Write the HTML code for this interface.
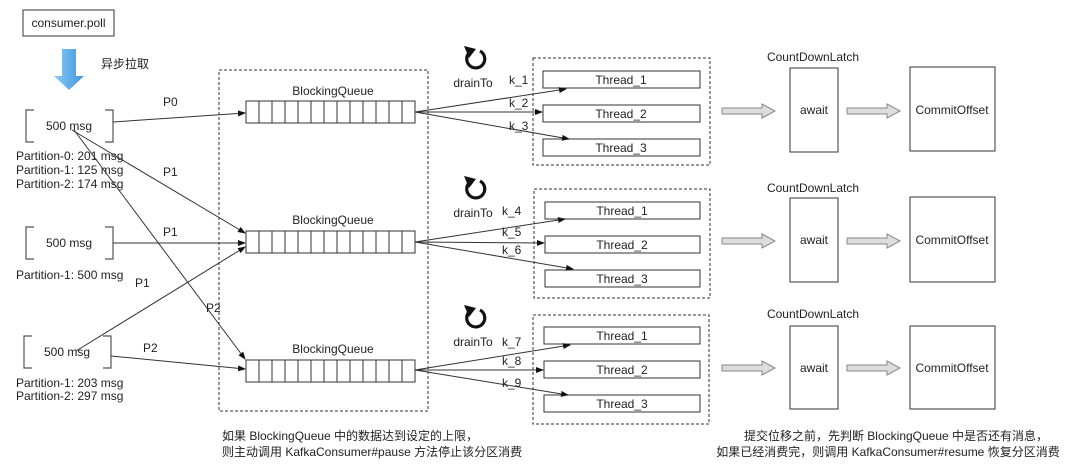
<!DOCTYPE html>
<html><head><meta charset="utf-8"><style>
html,body{margin:0;padding:0;background:#fff;}
svg{display:block;font-family:"Liberation Sans","Noto Sans CJK SC",sans-serif;}
text{font-size:12px;fill:#222;}
</style></head><body>
<svg width="1080" height="465" viewBox="0 0 1080 465" xmlns="http://www.w3.org/2000/svg">
<defs>
<marker id="ah" markerWidth="8" markerHeight="6" refX="7" refY="3" orient="auto" markerUnits="userSpaceOnUse"><path d="M0,0 L8,3 L0,6 z" fill="#111"/></marker>
<linearGradient id="bg" x1="0" y1="0" x2="1" y2="0"><stop offset="0" stop-color="#8cc8f2"/><stop offset="1" stop-color="#3d97e0"/></linearGradient>
<g id="q">
<rect x="0" y="0" width="169" height="22" fill="#fff" stroke="#333"/>
<path d="M13,0v22M26,0v22M39,0v22M52,0v22M65,0v22M78,0v22M91,0v22M104,0v22M117,0v22M130,0v22M143,0v22M156,0v22" stroke="#333" fill="none"/>
</g>
<g id="br">
<path d="M8,0H0V32H8M79,0H87V32H79" fill="none" stroke="#555" stroke-width="1.2"/>
</g>
<g id="ha"><path d="M0,-3H40V-7L53,0L40,7V3H0z" fill="#ddd" stroke="#888"/></g>
<g id="rot"><path d="M-5,-7 A9,9 0 1 0 5,-8" fill="none" stroke="#111" stroke-width="3.2"/><path d="M-11,-13 L1,-10 L-6,-1 z" fill="#111"/></g>
</defs>

<rect x="23" y="10" width="91" height="26" fill="#fff" stroke="#333"/>
<text x="68.5" y="27" text-anchor="middle">consumer.poll</text>
<path d="M62,49H76V76H84L69,90L54,76H62z" fill="url(#bg)"/>
<text x="101" y="68">异步拉取</text>

<use href="#br" x="26" y="110"/>
<text x="69" y="130" text-anchor="middle">500 msg</text>
<text x="16" y="160">Partition-0: 201 msg</text>
<text x="16" y="174">Partition-1: 125 msg</text>
<text x="16" y="188">Partition-2: 174 msg</text>

<use href="#br" x="26" y="227"/>
<text x="69" y="247" text-anchor="middle">500 msg</text>
<text x="16" y="279">Partition-1: 500 msg</text>

<use href="#br" x="24" y="336"/>
<text x="67" y="356" text-anchor="middle">500 msg</text>
<text x="16" y="387">Partition-1: 203 msg</text>
<text x="16" y="400">Partition-2: 297 msg</text>

<rect x="219" y="70" width="209" height="341" fill="none" stroke="#333" stroke-dasharray="3,2"/>
<text x="333" y="95" text-anchor="middle">BlockingQueue</text>
<use href="#q" x="246" y="101"/>
<text x="333" y="224" text-anchor="middle">BlockingQueue</text>
<use href="#q" x="246" y="231"/>
<text x="333" y="353" text-anchor="middle">BlockingQueue</text>
<use href="#q" x="246" y="360"/>

<g stroke="#333" fill="none" marker-end="url(#ah)">
<path d="M113,122L245,113"/>
<path d="M72,130L245,233"/>
<path d="M74,130L245,359"/>
<path d="M113,243L245,243"/>
<path d="M76,351L245,247"/>
<path d="M111,356L245,369"/>
</g>
<text x="163" y="106">P0</text>
<text x="163" y="176">P1</text>
<text x="163" y="236">P1</text>
<text x="135" y="287">P1</text>
<text x="206" y="312">P2</text>
<text x="143" y="352">P2</text>

<g>
<use href="#rot" x="475" y="59"/>
<text x="473" y="87" text-anchor="middle">drainTo</text>
<rect x="533" y="58" width="177" height="107" fill="none" stroke="#333" stroke-dasharray="3,2"/>
<rect x="543" y="71" width="157" height="17" fill="#fff" stroke="#333"/><text x="621" y="84" text-anchor="middle">Thread_1</text>
<rect x="543" y="105" width="157" height="17" fill="#fff" stroke="#333"/><text x="621" y="118" text-anchor="middle">Thread_2</text>
<rect x="543" y="139" width="157" height="17" fill="#fff" stroke="#333"/><text x="621" y="152" text-anchor="middle">Thread_3</text>
<g stroke="#333" fill="none" marker-end="url(#ah)"><path d="M415,112L566,89"/><path d="M415,112L542,112"/><path d="M415,112L569,139"/></g>
<text x="509" y="84">k_1</text><text x="509" y="107">k_2</text><text x="509" y="130">k_3</text>
</g>
<g>
<use href="#rot" x="475" y="189"/>
<text x="473" y="217" text-anchor="middle">drainTo</text>
<rect x="534" y="189" width="176" height="109" fill="none" stroke="#333" stroke-dasharray="3,2"/>
<rect x="545" y="202" width="155" height="17" fill="#fff" stroke="#333"/><text x="622" y="215" text-anchor="middle">Thread_1</text>
<rect x="545" y="236" width="155" height="17" fill="#fff" stroke="#333"/><text x="622" y="249" text-anchor="middle">Thread_2</text>
<rect x="545" y="270" width="155" height="17" fill="#fff" stroke="#333"/><text x="622" y="283" text-anchor="middle">Thread_3</text>
<g stroke="#333" fill="none" marker-end="url(#ah)"><path d="M415,242L565,219"/><path d="M415,242L544,243"/><path d="M415,242L573,269"/></g>
<text x="502" y="215">k_4</text><text x="502" y="236">k_5</text><text x="502" y="254">k_6</text>
</g>
<g>
<use href="#rot" x="475" y="318"/>
<text x="473" y="346" text-anchor="middle">drainTo</text>
<rect x="533" y="315" width="176" height="109" fill="none" stroke="#333" stroke-dasharray="3,2"/>
<rect x="544" y="327" width="156" height="17" fill="#fff" stroke="#333"/><text x="622" y="340" text-anchor="middle">Thread_1</text>
<rect x="544" y="361" width="156" height="17" fill="#fff" stroke="#333"/><text x="622" y="374" text-anchor="middle">Thread_2</text>
<rect x="544" y="395" width="156" height="17" fill="#fff" stroke="#333"/><text x="622" y="408" text-anchor="middle">Thread_3</text>
<g stroke="#333" fill="none" marker-end="url(#ah)"><path d="M415,370L570,345"/><path d="M415,370L543,370"/><path d="M415,370L568,395"/></g>
<text x="502" y="346">k_7</text><text x="502" y="365">k_8</text><text x="502" y="387">k_9</text>
</g>

<text x="813" y="61" text-anchor="middle">CountDownLatch</text>
<use href="#ha" x="722" y="111"/>
<rect x="790" y="68" width="48" height="84" fill="#fff" stroke="#333"/><text x="814" y="114" text-anchor="middle">await</text>
<use href="#ha" x="847" y="111"/>
<rect x="910" y="67" width="85" height="84" fill="#fff" stroke="#333"/><text x="952" y="114" text-anchor="middle">CommitOffset</text>

<text x="813" y="192" text-anchor="middle">CountDownLatch</text>
<use href="#ha" x="722" y="241"/>
<rect x="790" y="198" width="48" height="84" fill="#fff" stroke="#333"/><text x="814" y="244" text-anchor="middle">await</text>
<use href="#ha" x="847" y="241"/>
<rect x="910" y="197" width="85" height="85" fill="#fff" stroke="#333"/><text x="952" y="244" text-anchor="middle">CommitOffset</text>

<text x="813" y="318" text-anchor="middle">CountDownLatch</text>
<use href="#ha" x="722" y="368"/>
<rect x="790" y="326" width="48" height="83" fill="#fff" stroke="#333"/><text x="814" y="372" text-anchor="middle">await</text>
<use href="#ha" x="847" y="368"/>
<rect x="910" y="326" width="85" height="83" fill="#fff" stroke="#333"/><text x="952" y="372" text-anchor="middle">CommitOffset</text>

<text x="222" y="440">如果 BlockingQueue 中的数据达到设定的上限，</text>
<text x="222" y="456">则主动调用 KafkaConsumer#pause 方法停止该分区消费</text>
<text x="896" y="440" text-anchor="middle">提交位移之前，先判断 BlockingQueue 中是否还有消息，</text>
<text x="888" y="456" text-anchor="middle">如果已经消费完，则调用 KafkaConsumer#resume 恢复分区消费</text>
</svg>
</body></html>
